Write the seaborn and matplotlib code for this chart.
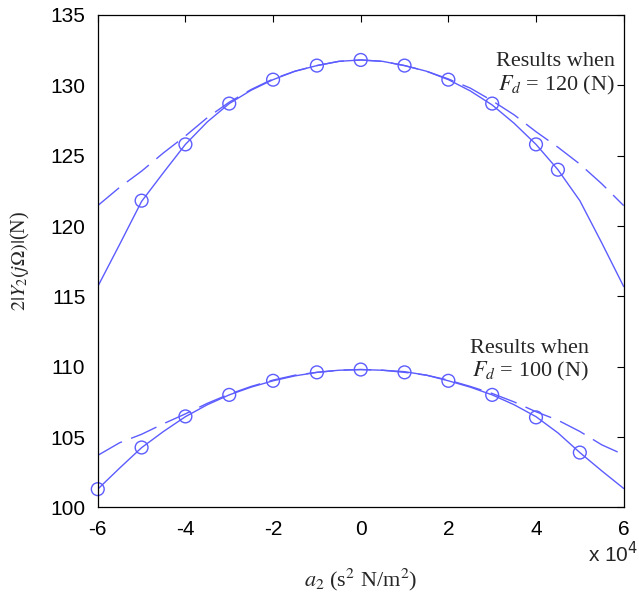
import numpy as np
import pandas as pd
import matplotlib
matplotlib.use("Agg")
import matplotlib.pyplot as plt
import seaborn as sns

# x in units of 1e4 (s^2 N/m^2)
x_curve = [-6, -5.5, -5, -4.5, -4, -3.5, -3, -2.5, -2, -1.5, -1, -0.5, 0,
           0.5, 1, 1.5, 2, 2.5, 3, 3.5, 4, 4.5, 5, 5.5, 6]
up_solid = [115.7, 118.7, 121.75, 123.8, 125.8, 127.4, 128.7, 129.65, 130.4, 131.0, 131.4, 131.7, 131.8,
            131.7, 131.4, 131.0, 130.4, 129.6, 128.6, 127.3, 125.8, 124.0, 121.8, 118.8, 115.7]
up_dash = [121.45, 122.75, 123.9, 125.2, 126.4, 127.7, 128.8, 129.7, 130.45, 131.0, 131.4, 131.7, 131.8,
           131.7, 131.4, 131.0, 130.45, 129.8, 128.9, 127.9, 126.7, 125.6, 124.4, 123.0, 121.45]
lo_solid = [101.3, 102.8, 104.25, 105.4, 106.45, 107.3, 108.0, 108.55, 109.0, 109.35, 109.6, 109.75, 109.8,
            109.75, 109.65, 109.4, 109.0, 108.55, 108.0, 107.3, 106.45, 105.3, 103.9, 102.6, 101.35]
lo_dash = [103.7, 104.6, 105.2, 105.95, 106.65, 107.4, 108.05, 108.6, 109.05, 109.4, 109.6, 109.75, 109.8,
           109.75, 109.6, 109.4, 109.05, 108.6, 108.1, 107.5, 106.8, 106.2, 105.4, 104.45, 103.75]

x_up_pts = [-5, -4, -3, -2, -1, 0, 1, 2, 3, 4, 4.5]
y_up_pts = [121.8, 125.8, 128.7, 130.4, 131.4, 131.8, 131.4, 130.4, 128.7, 125.8, 124.0]
x_lo_pts = [-6, -5, -4, -3, -2, -1, 0, 1, 2, 3, 4, 5]
y_lo_pts = [101.3, 104.26, 106.47, 108.0, 109.0, 109.6, 109.8, 109.6, 109.0, 108.0, 106.4, 103.9]

col = "#5c5cff"
sns.set_style("white")
plt.rcParams["mathtext.fontset"] = "stix"
plt.rcParams["axes.unicode_minus"] = False

fig = plt.figure(figsize=(6.39, 5.97), dpi=100)
ax = fig.add_axes([0.153, 0.150, 0.823, 0.825])

dash = (0, (20, 7))
for ys, ls in [(up_solid, "-"), (up_dash, dash), (lo_solid, "-"), (lo_dash, dash)]:
    df = pd.DataFrame({"x": x_curve, "y": ys})
    sns.lineplot(data=df, x="x", y="y", ax=ax, color=col, lw=1.0, linestyle=ls, sort=False)

for xs, ys in [(x_up_pts, y_up_pts), (x_lo_pts, y_lo_pts)]:
    df = pd.DataFrame({"x": xs, "y": ys})
    sns.scatterplot(data=df, x="x", y="y", ax=ax, marker="o", s=85,
                    facecolors="none", edgecolors=col, linewidths=1.0, clip_on=False)

ax.set_xlim(-6, 6)
ax.set_ylim(100, 135)
ax.set_xticks([-6, -4, -2, 0, 2, 4, 6])
ax.set_yticks([100, 105, 110, 115, 120, 125, 130, 135])
ax.tick_params(direction="in", length=5, width=0.8, top=True, right=True,
               labelsize=15, pad=9, colors="black")
for lab in ax.get_xticklabels() + ax.get_yticklabels():
    lab.set_family("Liberation Sans")
for s in ax.spines.values():
    s.set_color("black")
    s.set_linewidth(0.9)

ax.set_xlabel(r"$a_2$ (s$^2$ N/m$^2$)", fontsize=16, family="Liberation Serif", labelpad=20)
ax.set_ylabel(r"$2|Y_2(j\Omega)|$(N)", fontsize=14.5, family="Liberation Serif", labelpad=13)

fig.text(0.998, 0.059, r"x 10$^4$", ha="right", va="baseline", fontsize=15,
         family="Liberation Sans", math_fontfamily="dejavusans")

ax.text(5.8, 131.4, "Results when", ha="right", va="baseline", fontsize=16, family="Liberation Serif")
ax.text(5.8, 129.6, r"$F_d$ = 120 (N)", ha="right", va="baseline", fontsize=16, family="Liberation Serif")
ax.text(5.2, 111.0, "Results when", ha="right", va="baseline", fontsize=16, family="Liberation Serif")
ax.text(5.2, 109.3, r"$F_d$ = 100 (N)", ha="right", va="baseline", fontsize=16, family="Liberation Serif")

fig.savefig("out.png", dpi=100)
